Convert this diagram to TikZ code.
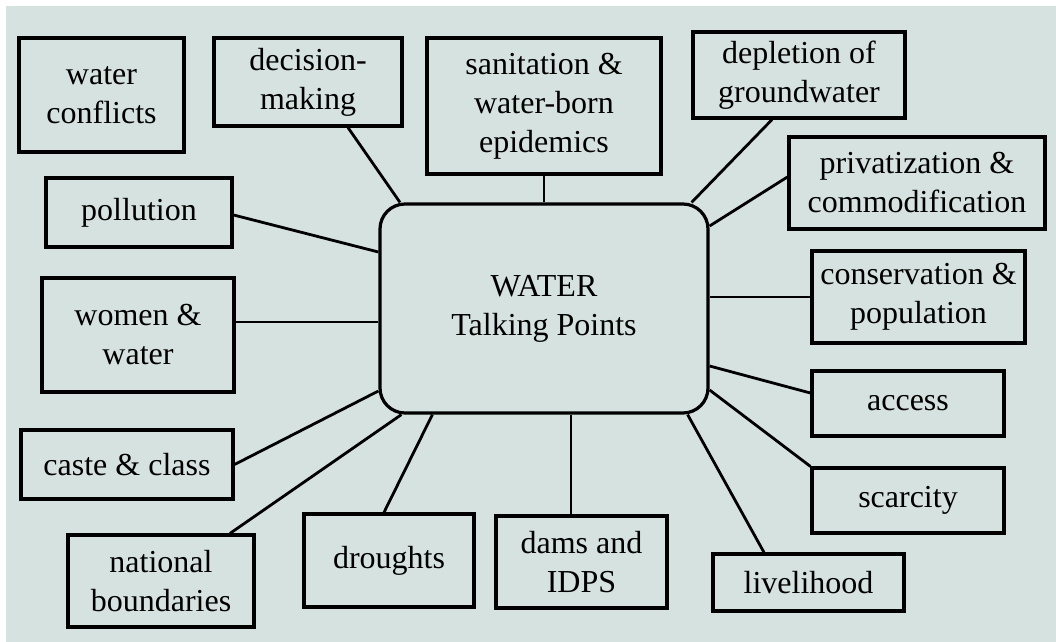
\documentclass[tikz,border=0pt]{standalone}
\usepackage{fontspec}
\setmainfont{Liberation Serif}
\definecolor{panelbg}{RGB}{214,226,223}
\tikzset{
    sz/.style 2 args={minimum width=#1, minimum height=#2},
}

\begin{document}
\begin{tikzpicture}[
    x=0.5pt, y=-0.5pt,
    box/.style={rectangle, draw, line width=1.6pt, align=center, inner sep=0pt,
                font=\fontsize{16}{19.5}\selectfont},
    link/.style={line width=1.4pt},
]

% Canvas and panel
\useasboundingbox (0,0) rectangle (1056,642);
\fill[panelbg] (6,6) rectangle (1056,642);

% Central topic
\node[box, sz={164pt}{104.5pt}, rounded corners=12.5pt] (water) at (544,308.5) {WATER\\Talking Points};

% Topics round the centre
\node[box, sz={82.5pt}{57pt}] (conflicts) at (101.5,95) {water\\conflicts};
\node[box, sz={94pt}{44pt}] (decision) at (308,82) {decision-\\making};
\node[box, sz={117pt}{68pt}] (sanitation) at (544,106) {sanitation \&\\water-born\\epidemics};
\node[box, sz={106pt}{43pt}] (depletion) at (799,75) {depletion of\\groundwater};
\node[box, sz={128pt}{46pt}] (privat) at (917,183) {privatization \&\\commodification};
\node[box, sz={106.5pt}{46pt}] (conserv) at (918.5,297) {conservation \&\\population};
\node[box, sz={96pt}{32.5pt}] (access) at (908,403.5) {access};
\node[box, sz={96pt}{32.5pt}] (scarcity) at (908,500.5) {scarcity};
\node[box, sz={95.5pt}{28.5pt}] (livelihood) at (808.5,582.5) {livelihood};
\node[box, sz={85.5pt}{46pt}] (dams) at (581.5,562) {dams and\\IDPS};
\node[box, sz={85pt}{46.5pt}] (droughts) at (389,560.5) {droughts};
\node[box, sz={93pt}{46pt}] (national) at (161,581) {national\\boundaries};
\node[box, sz={106pt}{34.5pt}] (caste) at (127,464.5) {caste \& class};
\node[box, sz={96pt}{57pt}] (women) at (138,335) {women \&\\water};
\node[box, sz={93pt}{34.5pt}] (pollution) at (139,212.5) {pollution};

% Links to the centre
\draw[link] ([xshift=20pt]decision.south) -- ([xshift=-72pt]water.north);
\draw[link] (sanitation.south) -- (water.north);
\draw[link] ([xshift=-13.5pt]depletion.south) -- ([xshift=-9pt]water.north east);
\draw[link] ([yshift=3pt]privat.west) -- ([yshift=41.25pt]water.east);
\draw[link] (conserv.west) -- (conserv.west -| water.east);
\draw[link] ([yshift=5.25pt]access.west) -- ([yshift=-28.75pt]water.east);
\draw[link] (scarcity.north west) -- ([yshift=-40.75pt]water.east);
\draw[link] ([xshift=-22.25pt]livelihood.north) -- ([xshift=-11pt]water.south east);
\draw[link] ([xshift=-5.25pt]dams.north) -- ([xshift=-5.25pt]dams.north |- water.south);
\draw[link] ([xshift=-2.5pt]droughts.north) -- ([xshift=27pt]water.south west);
\draw[link] ([xshift=34.5pt]national.north) -- ([xshift=11.5pt]water.south west);
\draw[link] (caste.east) -- ([yshift=-41.25pt]water.west);
\draw[link] ([yshift=6.5pt]women.east) -- ([yshift=6.5pt]women.east -| water.west);
\draw[link] ([yshift=-1.25pt]pollution.east) -- ([yshift=28.25pt]water.west);

\end{tikzpicture}
\end{document}
